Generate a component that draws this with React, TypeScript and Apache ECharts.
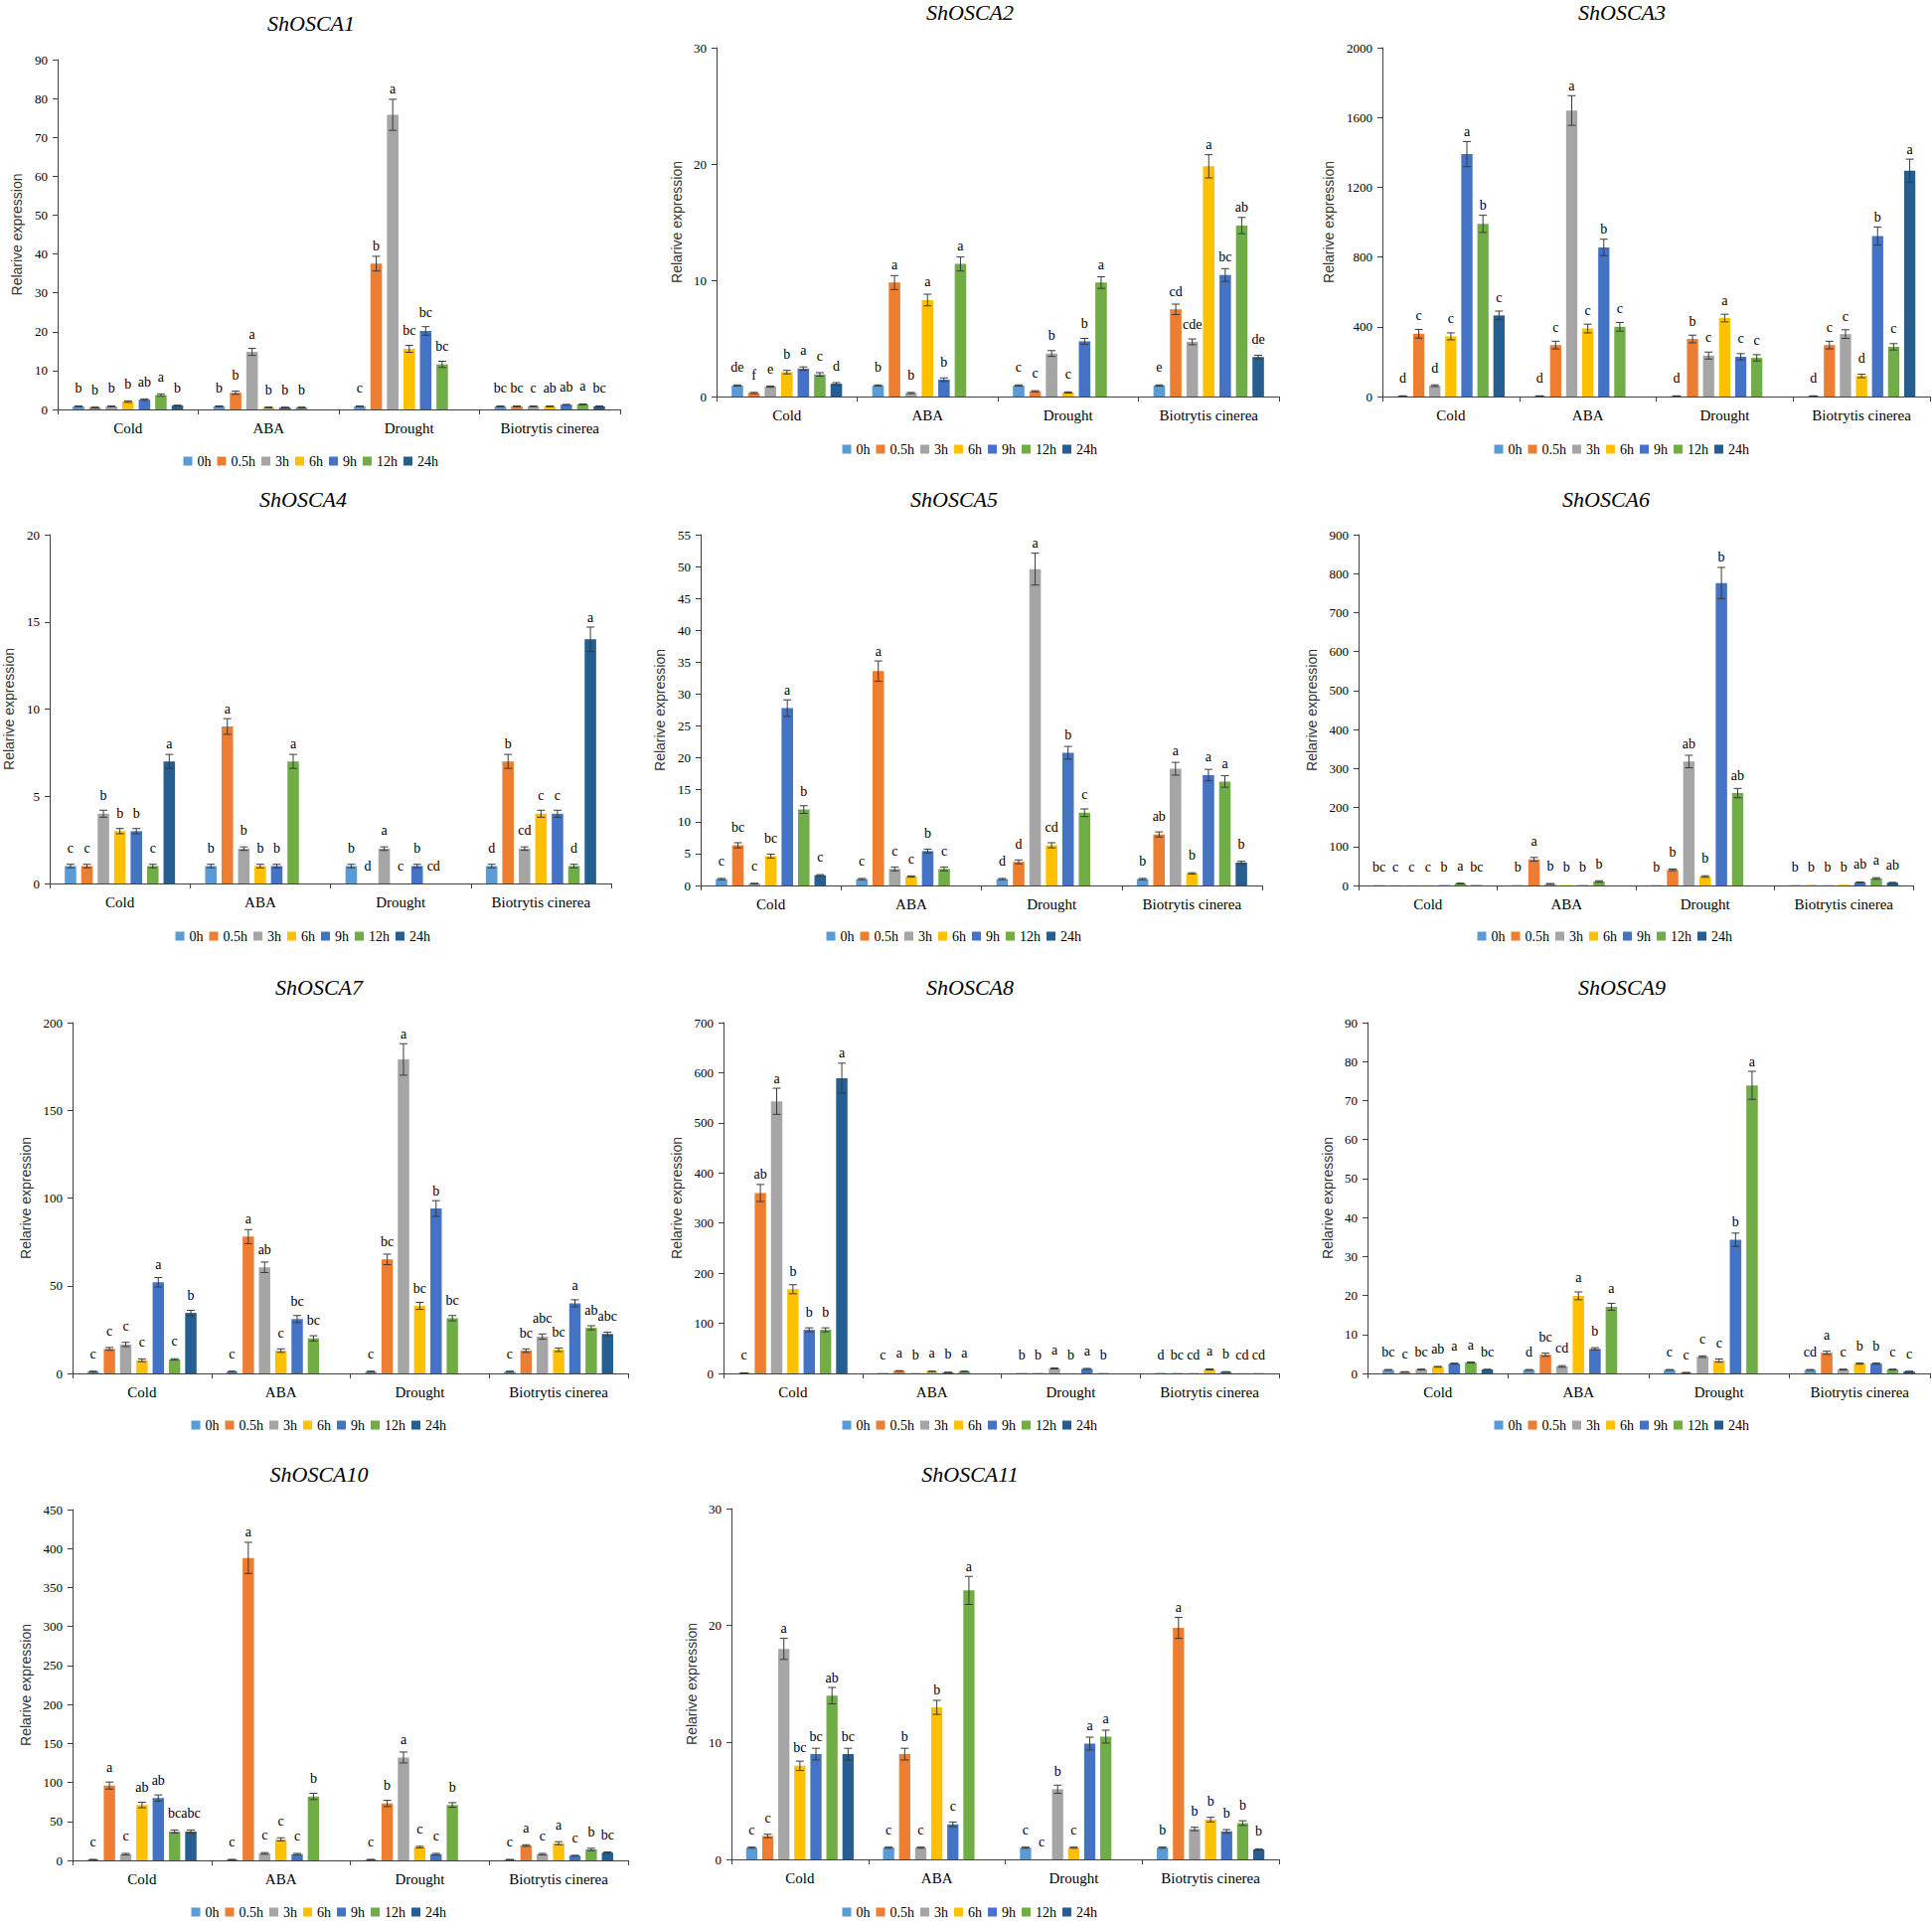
import React, { useEffect, useRef } from 'react';
import * as echarts from 'echarts';

const categories = ['Cold', 'ABA', 'Drought', 'Biotrytis cinerea'];
const timePoints = ['0h', '0.5h', '3h', '6h', '9h', '12h', '24h'];
const seriesColors = ['#5B9BD5', '#ED7D31', '#A5A5A5', '#FFC000', '#4472C4', '#70AD47', '#255E91'];
const geneNames = ['ShOSCA1', 'ShOSCA2', 'ShOSCA3', 'ShOSCA4', 'ShOSCA5', 'ShOSCA6', 'ShOSCA7', 'ShOSCA8', 'ShOSCA9', 'ShOSCA10', 'ShOSCA11'];
const yAxisMax = [90, 30, 2000, 20, 55, 900, 200, 700, 90, 450, 30];
const yAxisInterval = [10, 10, 400, 5, 5, 100, 50, 100, 10, 50, 10];
const yAxisName = 'Relarive expression';

// rows: Cold, ABA, Drought, Biotrytis cinerea ; columns: 0h,0.5h,3h,6h,9h,12h,24h
const osca1Values = [
  [0.8, 0.5, 0.8, 2.0, 2.5, 3.7, 1.0],
  [0.8, 4.3, 14.8, 0.5, 0.5, 0.5, null],
  [0.8, 37.5, 75.8, 15.6, 20.2, 11.6, null],
  [0.8, 0.8, 0.8, 0.8, 1.2, 1.3, 0.8],
];
const osca1Errors = [
  [0.1, 0.1, 0.1, 0.2, 0.2, 0.3, 0.1],
  [0.1, 0.4, 0.9, 0.1, 0.1, 0.1, 0],
  [0.1, 1.9, 4.0, 0.9, 1.1, 0.8, 0],
  [0.1, 0.1, 0.1, 0.1, 0.1, 0.1, 0.1],
];
const osca1Letters = [
  ['b', 'b', 'b', 'b', 'ab', 'a', 'b'],
  ['b', 'b', 'a', 'b', 'b', 'b', ''],
  ['c', 'b', 'a', 'bc', 'bc', 'bc', ''],
  ['bc', 'bc', 'c', 'ab', 'ab', 'a', 'bc'],
];

const osca2Values = [
  [0.95, 0.3, 0.85, 2.1, 2.4, 1.9, 1.1],
  [0.95, 9.8, 0.3, 8.3, 1.45, 11.4, null],
  [0.95, 0.45, 3.7, 0.35, 4.75, 9.8, null],
  [0.95, 7.5, 4.7, 19.8, 10.45, 14.7, 3.4],
];
const osca2Errors = [
  [0.05, 0.05, 0.05, 0.15, 0.15, 0.15, 0.1],
  [0.05, 0.6, 0.05, 0.5, 0.15, 0.6, 0],
  [0.05, 0.05, 0.25, 0.05, 0.25, 0.5, 0],
  [0.05, 0.45, 0.25, 1.0, 0.55, 0.7, 0.15],
];
const osca2Letters = [
  ['de', 'f', 'e', 'b', 'a', 'c', 'd'],
  ['b', 'a', 'b', 'a', 'b', 'a', ''],
  ['c', 'c', 'b', 'c', 'b', 'a', ''],
  ['e', 'cd', 'cde', 'a', 'bc', 'ab', 'de'],
];

const osca3Values = [
  [3, 360, 62, 345, 1390, 990, 465],
  [3, 295, 1640, 390, 855, 400, null],
  [3, 330, 235, 450, 228, 222, null],
  [3, 295, 358, 118, 920, 285, 1295],
];
const osca3Errors = [
  [1, 25, 5, 20, 72, 49, 25],
  [1, 22, 85, 25, 47, 25, 0],
  [1, 22, 20, 22, 18, 18, 0],
  [1, 22, 25, 10, 52, 18, 66],
];
const osca3Letters = [
  ['d', 'c', 'd', 'c', 'a', 'b', 'c'],
  ['d', 'c', 'a', 'c', 'b', 'c', ''],
  ['d', 'b', 'c', 'a', 'c', 'c', ''],
  ['d', 'c', 'c', 'd', 'b', 'c', 'a'],
];

const osca4Values = [
  [1, 1, 4, 3, 3, 1, 7],
  [1, 9, 2, 1, 1, 7, null],
  [1, 0, 2, 0, 1, 0, null],
  [1, 7, 2, 4, 4, 1, 14],
];
const osca4Errors = [
  [0.1, 0.1, 0.2, 0.15, 0.15, 0.1, 0.4],
  [0.1, 0.45, 0.1, 0.1, 0.1, 0.4, 0],
  [0.1, 0, 0.1, 0, 0.1, 0, 0],
  [0.1, 0.4, 0.1, 0.2, 0.2, 0.1, 0.7],
];
const osca4Letters = [
  ['c', 'c', 'b', 'b', 'b', 'c', 'a'],
  ['b', 'a', 'b', 'b', 'b', 'a', ''],
  ['b', 'd', 'a', 'c', 'b', 'cd', ''],
  ['d', 'b', 'cd', 'c', 'c', 'd', 'a'],
];

const osca5Values = [
  [1.0, 6.3, 0.3, 4.6, 27.8, 11.9, 1.6],
  [1.0, 33.6, 2.6, 1.4, 5.4, 2.6, null],
  [1.0, 3.7, 49.6, 6.3, 20.8, 11.4, null],
  [1.0, 8.0, 18.3, 1.9, 17.3, 16.3, 3.6],
];
const osca5Errors = [
  [0.1, 0.4, 0.05, 0.3, 1.3, 0.6, 0.1],
  [0.1, 1.6, 0.3, 0.1, 0.3, 0.3, 0],
  [0.1, 0.3, 2.5, 0.4, 1.0, 0.6, 0],
  [0.1, 0.4, 1.0, 0.1, 0.9, 0.9, 0.2],
];
const osca5Letters = [
  ['c', 'bc', 'c', 'bc', 'a', 'b', 'c'],
  ['c', 'a', 'c', 'c', 'b', 'c', ''],
  ['d', 'd', 'a', 'cd', 'b', 'c', ''],
  ['b', 'ab', 'a', 'b', 'a', 'a', 'b'],
];

const osca6Values = [
  [1, 0.5, 0.5, 0.5, 1, 5, 1],
  [1, 67, 4, 1, 1, 10, null],
  [1, 40, 318, 23, 776, 237, null],
  [1, 1, 1, 2, 8, 18, 7],
];
const osca6Errors = [
  [0, 0, 0, 0, 0, 1, 0],
  [0, 5, 1, 0, 0, 2, 0],
  [0, 2, 16, 2, 40, 12, 0],
  [0, 0, 0, 0, 1, 2, 1],
];
const osca6Letters = [
  ['bc', 'c', 'c', 'c', 'b', 'a', 'bc'],
  ['b', 'a', 'b', 'b', 'b', 'b', ''],
  ['b', 'b', 'ab', 'b', 'b', 'ab', ''],
  ['b', 'b', 'b', 'b', 'ab', 'a', 'ab'],
];

const osca7Values = [
  [1, 14, 16.5, 7.5, 52, 8, 34.5],
  [1, 78, 60.5, 13, 31, 20, null],
  [1, 65, 179, 38.5, 94, 31.5, null],
  [1, 13, 21, 13.5, 40, 26, 22.5],
];
const osca7Errors = [
  [0.3, 0.8, 1.2, 0.8, 2.7, 0.4, 1.5],
  [0.3, 4, 3, 1, 2, 1.5, 0],
  [0.3, 3, 9, 2, 4.5, 1.5, 0],
  [0.3, 1, 1.5, 1, 2, 1.2, 1],
];
const osca7Letters = [
  ['c', 'c', 'c', 'c', 'a', 'c', 'b'],
  ['c', 'a', 'ab', 'c', 'bc', 'bc', ''],
  ['c', 'bc', 'a', 'bc', 'b', 'bc', ''],
  ['c', 'bc', 'abc', 'bc', 'a', 'ab', 'abc'],
];

const osca8Values = [
  [1, 360, 543, 168, 87, 87, 589],
  [1, 5, 1, 4, 2, 4, null],
  [1, 1, 10, 0.5, 9, 1, null],
  [1, 1, 1, 8, 3, 0.5, 0.5],
];
const osca8Errors = [
  [0.2, 17, 26, 9, 4, 4, 30],
  [0, 0.5, 0, 0.5, 0.3, 0.5, 0],
  [0, 0, 1, 0, 1, 0, 0],
  [0, 0, 0, 1, 0.5, 0, 0],
];
const osca8Letters = [
  ['c', 'ab', 'a', 'b', 'b', 'b', 'a'],
  ['c', 'a', 'b', 'a', 'b', 'a', ''],
  ['b', 'b', 'a', 'b', 'a', 'b', ''],
  ['d', 'bc', 'cd', 'a', 'b', 'cd', 'cd'],
];

const osca9Values = [
  [0.9, 0.4, 1.0, 1.7, 2.5, 2.8, 1.0],
  [0.9, 4.8, 1.8, 19.9, 6.3, 17.1, null],
  [0.9, 0.2, 4.3, 3.3, 34.3, 73.9, null],
  [0.9, 5.3, 1.0, 2.5, 2.5, 1.0, 0.5],
];
const osca9Errors = [
  [0.1, 0.05, 0.1, 0.1, 0.15, 0.15, 0.05],
  [0.1, 0.4, 0.2, 1.0, 0.3, 0.9, 0],
  [0.1, 0.05, 0.2, 0.4, 1.7, 3.6, 0],
  [0.1, 0.4, 0.1, 0.15, 0.15, 0.1, 0.05],
];
const osca9Letters = [
  ['bc', 'c', 'bc', 'ab', 'a', 'a', 'bc'],
  ['d', 'bc', 'cd', 'a', 'b', 'a', ''],
  ['c', 'c', 'c', 'c', 'b', 'a', ''],
  ['cd', 'a', 'c', 'b', 'b', 'c', 'c'],
];

const osca10Values = [
  [1, 96, 8, 71, 80, 37, 37],
  [1, 388, 9, 27, 8, 82, null],
  [1, 73, 132, 17, 8, 71, null],
  [1, 19, 8, 22, 6, 14, 10],
];
const osca10Errors = [
  [0.2, 4.5, 1, 3.5, 4, 2, 2],
  [0.2, 20, 1, 2, 1, 4, 0],
  [0.2, 4, 7, 1, 1, 3, 0],
  [0.2, 1, 1, 2, 0.5, 1.5, 0.8],
];
const osca10Letters = [
  ['c', 'a', 'c', 'ab', 'ab', 'bc', 'abc'],
  ['c', 'a', 'c', 'c', 'c', 'b', ''],
  ['c', 'b', 'a', 'c', 'c', 'b', ''],
  ['c', 'a', 'c', 'a', 'c', 'b', 'bc'],
];

const osca11Values = [
  [1.0, 2.0, 18.0, 8.0, 9.0, 14.0, 9.0],
  [1.0, 9.0, 1.0, 13.0, 3.0, 23.0, null],
  [1.0, 0, 6.0, 1.0, 9.9, 10.5, null],
  [1.0, 19.8, 2.6, 3.4, 2.4, 3.1, 0.85],
];
const osca11Errors = [
  [0.05, 0.15, 0.9, 0.4, 0.5, 0.7, 0.5],
  [0.05, 0.5, 0.05, 0.6, 0.2, 1.2, 0],
  [0.05, 0, 0.35, 0.05, 0.55, 0.55, 0],
  [0.05, 0.9, 0.15, 0.2, 0.15, 0.2, 0.05],
];
const osca11Letters = [
  ['c', 'c', 'a', 'bc', 'bc', 'ab', 'bc'],
  ['c', 'b', 'c', 'b', 'c', 'a', ''],
  ['c', 'c', 'b', 'c', 'a', 'a', ''],
  ['b', 'a', 'b', 'b', 'b', 'b', 'b'],
];

const geneValues = [osca1Values, osca2Values, osca3Values, osca4Values, osca5Values, osca6Values, osca7Values, osca8Values, osca9Values, osca10Values, osca11Values];
const geneErrors = [osca1Errors, osca2Errors, osca3Errors, osca4Errors, osca5Errors, osca6Errors, osca7Errors, osca8Errors, osca9Errors, osca10Errors, osca11Errors];
const geneLetters = [osca1Letters, osca2Letters, osca3Letters, osca4Letters, osca5Letters, osca6Letters, osca7Letters, osca8Letters, osca9Letters, osca10Letters, osca11Letters];

// Panel layout in page pixels
const panelLayouts = [
  { left: 58, top: 60, right: 624, zero: 412, nameGap: 34, titleX: 313, titleY: 23, legendX: 314, legendY: 465 },
  { left: 721, top: 48, right: 1287, zero: 399, nameGap: 33, titleX: 976, titleY: 12, legendX: 977, legendY: 453 },
  { left: 1391, top: 48, right: 1942, zero: 399, nameGap: 47, titleX: 1632, titleY: 12, legendX: 1633, legendY: 453 },
  { left: 50, top: 538, right: 615, zero: 889, nameGap: 34, titleX: 305, titleY: 502, legendX: 306, legendY: 943 },
  { left: 705, top: 538, right: 1270, zero: 891, nameGap: 34, titleX: 960, titleY: 502, legendX: 961, legendY: 943 },
  { left: 1367, top: 538, right: 1925, zero: 891, nameGap: 40, titleX: 1616, titleY: 502, legendX: 1616, legendY: 943 },
  { left: 73, top: 1029, right: 632, zero: 1382, nameGap: 40, titleX: 321, titleY: 993, legendX: 322, legendY: 1435 },
  { left: 728, top: 1029, right: 1287, zero: 1382, nameGap: 40, titleX: 976, titleY: 993, legendX: 977, legendY: 1435 },
  { left: 1376, top: 1029, right: 1942, zero: 1382, nameGap: 33, titleX: 1632, titleY: 993, legendX: 1633, legendY: 1435 },
  { left: 73, top: 1519, right: 632, zero: 1872, nameGap: 40, titleX: 321, titleY: 1483, legendX: 322, legendY: 1925 },
  { left: 736, top: 1518, right: 1287, zero: 1871, nameGap: 33, titleX: 976, titleY: 1483, legendX: 977, legendY: 1925 },
];

const SERIF = "'Liberation Serif', 'Times New Roman', serif";
const SANS = "'Liberation Sans', Arial, sans-serif";
const BAR_W = 0.082;
const BAR_GAP = 0.43;
const LEG_W = 259;
const AXIS_COLOR = '#404040';
const ERR_COLOR = '#3a3a3a';

function buildOption() {
  const grid: any[] = [];
  const xAxis: any[] = [];
  const yAxis: any[] = [];
  const legend: any[] = [];
  const series: any[] = [];
  const graphic: any[] = [];

  panelLayouts.forEach((l, p) => {
    grid.push({ left: l.left, top: l.top, width: l.right - l.left, height: l.zero - l.top, containLabel: false });
    xAxis.push({
      type: 'category', gridIndex: p, data: categories,
      axisLine: { show: true, lineStyle: { color: AXIS_COLOR, width: 1 } },
      axisTick: { show: true, length: 5, lineStyle: { color: AXIS_COLOR } },
      axisLabel: { interval: 0, margin: 11, fontSize: 15, fontFamily: SERIF, color: '#000' },
      splitLine: { show: false },
    });
    yAxis.push({
      type: 'value', gridIndex: p, min: 0, max: yAxisMax[p], interval: yAxisInterval[p],
      name: yAxisName, nameLocation: 'middle', nameGap: l.nameGap,
      nameTextStyle: { fontFamily: SANS, fontSize: 14, color: '#333' },
      axisLine: { show: true, lineStyle: { color: AXIS_COLOR, width: 1 } },
      axisTick: { show: true, length: 5, lineStyle: { color: AXIS_COLOR } },
      axisLabel: { margin: 10, fontSize: 13, fontFamily: SERIF, color: '#000', formatter: (v: number) => String(v) },
      splitLine: { show: false },
    });
    legend.push({
      data: timePoints, left: l.legendX - LEG_W / 2, top: l.legendY - 8, orient: 'horizontal',
      itemWidth: 9, itemHeight: 9, itemGap: 6, icon: 'rect', selectedMode: false, padding: 0,
      textStyle: { fontFamily: SERIF, fontSize: 14, color: '#000' },
    });
    graphic.push({
      type: 'text', x: l.titleX, y: l.titleY,
      style: {
        text: geneNames[p], font: "italic 22px 'Liberation Serif'", fontSize: 22, fontStyle: 'italic', fontWeight: 'normal', fontFamily: SERIF, fill: '#000',
        align: 'center', verticalAlign: 'middle', textAlign: 'center', textVerticalAlign: 'middle',
      },
    });

    const vals = geneValues[p];
    const errs = geneErrors[p];
    const lets = geneLetters[p];
    timePoints.forEach((tp, t) => {
      series.push({
        type: 'bar', name: tp, xAxisIndex: p, yAxisIndex: p,
        data: categories.map((c, ci) => vals[ci][t]),
        barWidth: (BAR_W * 100) + '%', barGap: (BAR_GAP * 100) + '%',
        itemStyle: { color: seriesColors[t] },
      });
    });

    const entries: any[] = [];
    categories.forEach((c, ci) => {
      timePoints.forEach((tp, t) => {
        const v = vals[ci][t];
        if (v === null || v === undefined) return;
        entries.push({ ci, t, v, e: errs[ci][t], letter: lets[ci][t] });
      });
    });
    series.push({
      type: 'custom', name: 'err' + p, xAxisIndex: p, yAxisIndex: p, z: 5, clip: false,
      encode: { x: 0, y: 1 },
      data: entries.map((en) => [en.ci, en.v]),
      renderItem: (params: any, api: any) => {
        const en = entries[params.dataIndex];
        const base = api.coord([en.ci, en.v]);
        const band = api.size([1, 0])[0];
        const w = band * BAR_W;
        const x = base[0] + (en.t - 3) * w * (1 + BAR_GAP);
        const yBar = base[1];
        const children: any[] = [];
        let yTop = yBar;
        if (en.e > 0) {
          const y1 = api.coord([en.ci, en.v + en.e])[1];
          const y0 = api.coord([en.ci, Math.max(en.v - en.e, 0)])[1];
          const hw = 4;
          const ls = { stroke: ERR_COLOR, lineWidth: 1 };
          children.push({ type: 'line', shape: { x1: x, y1: y0, x2: x, y2: y1 }, style: ls });
          children.push({ type: 'line', shape: { x1: x - hw, y1: y1, x2: x + hw, y2: y1 }, style: ls });
          children.push({ type: 'line', shape: { x1: x - hw, y1: y0, x2: x + hw, y2: y0 }, style: ls });
          yTop = y1;
        }
        if (en.letter) {
          const ly = Math.min(yBar - 11, yTop - 3);
          children.push({
            type: 'text', x: x, y: ly,
            style: {
              text: en.letter, font: "14px 'Liberation Serif'", fontSize: 14, fontFamily: SERIF, fill: '#000',
              align: 'center', verticalAlign: 'bottom', textAlign: 'center', textVerticalAlign: 'bottom',
            },
          });
        }
        return { type: 'group', children };
      },
    });
  });

  return {
    animation: false,
    backgroundColor: '#ffffff',
    tooltip: { show: false },
    grid, xAxis, yAxis, legend, series, graphic,
  };
}

export default function App() {
  const ref = useRef<HTMLDivElement>(null);
  useEffect(() => {
    document.body.style.margin = '0';
    const chart = echarts.init(ref.current as HTMLDivElement, undefined, { renderer: 'svg' });
    chart.setOption(buildOption() as any);
    return () => chart.dispose();
  }, []);
  return <div ref={ref} style={{ width: 1944, height: 1933, background: '#fff' }} />;
}
